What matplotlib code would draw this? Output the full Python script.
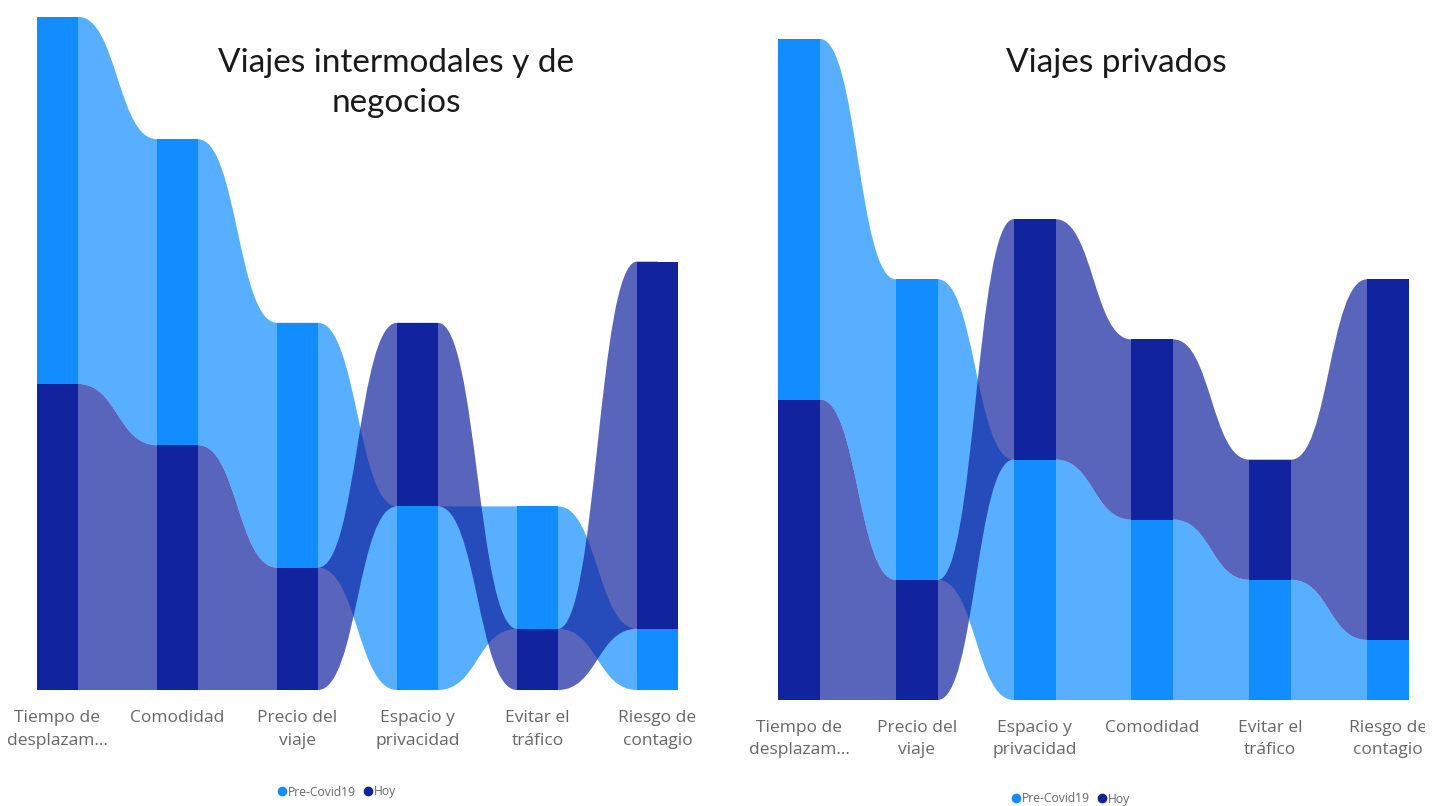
import matplotlib
matplotlib.use("Agg")
import matplotlib.pyplot as plt
from matplotlib.path import Path
from matplotlib.patches import PathPatch, Rectangle
from matplotlib.lines import Line2D
from matplotlib.transforms import Bbox

series = ["Pre-Covid19", "Hoy"]

cats_left = ["Tiempo de\ndesplazam...", "Comodidad", "Precio del\nviaje",
             "Espacio y\nprivacidad", "Evitar el\ntráfico", "Riesgo de\ncontagio"]
pre_left = [6, 5, 4, 3, 2, 1]
hoy_left = [5, 4, 2, 3, 1, 6]

cats_right = ["Tiempo de\ndesplazam...", "Precio del\nviaje", "Espacio y\nprivacidad",
              "Comodidad", "Evitar el\ntráfico", "Riesgo de\ncontagio"]
pre_right = [6, 5, 4, 3, 2, 1]
hoy_right = [5, 2, 4, 3, 2, 6]

title_left = "Viajes intermodales y de\nnegocios"
title_right = "Viajes privados"

BAR = {"Pre-Covid19": "#118DFF", "Hoy": "#12239E"}
RIBBON_ALPHA = 0.7
W, H = 1442, 806


def stack(pre, hoy):
    # larger value on top, ties -> Hoy on top
    out = []
    for p, h in zip(pre, hoy):
        if p > h:
            out.append({"Hoy": (0, h), "Pre-Covid19": (h, h + p)})
        else:
            out.append({"Pre-Covid19": (0, p), "Hoy": (p, p + h)})
    return out


def ribbon(ax, i, bw, a, b, color):
    # flat part under each bar (hides seams), S-curve across the gap
    xa, xb = i + bw / 2, i + 1 - bw / 2
    xm = (xa + xb) / 2
    verts = [(i, a[0]), (xa, a[0]), (xm, a[0]), (xm, b[0]), (xb, b[0]), (i + 1, b[0]),
             (i + 1, b[1]), (xb, b[1]), (xm, b[1]), (xm, a[1]), (xa, a[1]), (i, a[1]),
             (i, a[0])]
    codes = [Path.MOVETO, Path.LINETO, Path.CURVE4, Path.CURVE4, Path.CURVE4, Path.LINETO,
             Path.LINETO, Path.LINETO, Path.CURVE4, Path.CURVE4, Path.CURVE4, Path.LINETO,
             Path.CLOSEPOLY]
    ax.add_patch(PathPatch(Path(verts, codes), facecolor=color, edgecolor="none",
                           alpha=RIBBON_ALPHA, zorder=1))


def draw_panel(ax, cats, pre, hoy, bw, clip=None):
    st = stack(pre, hoy)
    n = len(cats)
    for i in range(n - 1):
        for s in series:
            ribbon(ax, i, bw, st[i][s], st[i + 1][s], BAR[s])
    for i in range(n):
        for s in series:
            y0, y1 = st[i][s]
            ax.add_patch(Rectangle((i - bw / 2, y0), bw, y1 - y0,
                                   facecolor=BAR[s], edgecolor="none", zorder=2))
        t = ax.text(i, -0.33, cats[i], ha="center", va="top", fontsize=12.5,
                    color="#666666", family="Open Sans", linespacing=1.55,
                    clip_on=clip is not None)
        if clip is not None:
            t.set_clip_box(clip)
    ax.set_axis_off()


fig = plt.figure(figsize=(W / 100, H / 100), dpi=100)
xl = (-0.5, 5.5)

# left panel: centres 57.5 .. 657.5 px, baseline 690, unit ~61.2 px
sp, x0c, base, unit = 120.0, 57.5, 690, 61.2
axl = fig.add_axes([(x0c + xl[0] * sp) / W, 1 - base / H,
                    (xl[1] - xl[0]) * sp / W, 11 * unit / H])
axl.set_xlim(*xl)
axl.set_ylim(0, 11)
draw_panel(axl, cats_left, pre_left, hoy_left, 41 / sp)

# right panel: centres 799 .. 1388 px, baseline 700, unit ~60.1 px
sp, x0c, base, unit = 117.8, 799.0, 700, 60.1
axr = fig.add_axes([(x0c + xl[0] * sp) / W, 1 - base / H,
                    (xl[1] - xl[0]) * sp / W, 11 * unit / H])
axr.set_xlim(*xl)
axr.set_ylim(0, 11)
draw_panel(axr, cats_right, pre_right, hoy_right, 42 / sp,
           clip=Bbox([[0, 0], [1425, H]]))

for tx, title in [(396, title_left), (1116, title_right)]:
    fig.text(tx / W, 1 - 48 / H, title, ha="center", va="top", fontsize=24,
             family="Lato", color="#1a1a1a", linespacing=1.4)

handles = [Line2D([], [], marker="o", linestyle="none", markersize=7,
                  markerfacecolor=BAR[s], markeredgecolor="none", label=s)
           for s in series]
for cx, cy in [(337, 792), (1071, 799)]:
    fig.legend(handles=handles, loc="center", bbox_to_anchor=(cx / W, 1 - cy / H),
               ncol=2, frameon=False, handlelength=0.7, handletextpad=0.15,
               columnspacing=0.6, borderaxespad=0, labelcolor="#666666",
               prop={"family": "Open Sans", "size": 8.7})

fig.savefig("out.png", dpi=100, facecolor="white")
